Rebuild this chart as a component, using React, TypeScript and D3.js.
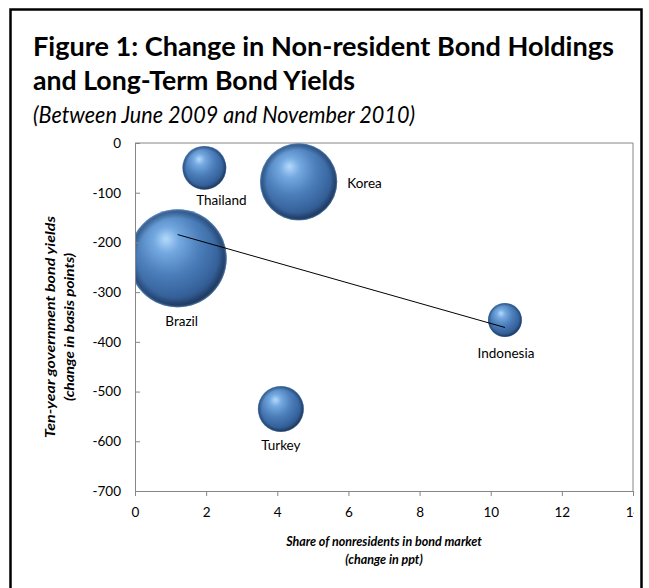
import React, { useEffect, useRef } from "react";
import * as d3 from "d3";

// ---- data ----
const countries = ["Brazil", "Thailand", "Korea", "Turkey", "Indonesia"];
const nonresShareChange = [1.2, 1.95, 4.6, 4.1, 10.4]; // x, ppt
const yieldChange = [-232, -50, -78, -535, -356]; // y, bp
const bubbleSize = [100, 20, 62, 22, 12]; // relative bubble size (area)
const xTicks = [0, 2, 4, 6, 8, 10, 12, 14];
const yTicks = [0, -100, -200, -300, -400, -500, -600, -700];

const titleLines = [
  "Figure 1: Change in Non-resident Bond Holdings",
  "and Long-Term Bond Yields",
];
const subtitle = "(Between June 2009 and November 2010)";
const yTitle = ["Ten-year government bond yields", "(change in basis points)"];
const xTitle = ["Share of nonresidents in bond market", "(change in ppt)"];

// ---- layout / style ----
const W = 649;
const H = 588;
const plot = { left: 135, right: 633, top: 143, bottom: 491 };
const FONT = "Lato, 'Open Sans', 'DejaVu Sans', sans-serif";
const AXIS_COLOR = "#868686";
const labelPlacement: Record<string, { anchor: string; dx: number; dy: number; side: string }> = {
  Brazil: { side: "below", anchor: "middle", dx: 4, dy: 19 },
  Thailand: { side: "below", anchor: "middle", dx: 17, dy: 15 },
  Korea: { side: "right", anchor: "start", dx: 10, dy: 6 },
  Turkey: { side: "below", anchor: "middle", dx: 0, dy: 18 },
  Indonesia: { side: "below", anchor: "middle", dx: 1, dy: 21 },
};

export default function App() {
  const xAxisRef = useRef<SVGGElement>(null);
  const yAxisRef = useRef<SVGGElement>(null);

  const x = d3.scaleLinear().domain([0, 14]).range([plot.left, plot.right]);
  const y = d3.scaleLinear().domain([-700, 0]).range([plot.bottom, plot.top]);
  const r = d3.scaleSqrt().domain([0, 100]).range([0, 49]);

  const points = countries.map((c, i) => ({
    name: c,
    x: nonresShareChange[i],
    y: yieldChange[i],
    s: bubbleSize[i],
  }));

  // linear (OLS) trendline through the points
  const mx = d3.mean(points, (p) => p.x)!;
  const my = d3.mean(points, (p) => p.y)!;
  const sxy = d3.sum(points, (p) => (p.x - mx) * (p.y - my));
  const sxx = d3.sum(points, (p) => (p.x - mx) ** 2);
  const slope = sxy / sxx;
  const intercept = my - slope * mx;
  const [xmin, xmax] = d3.extent(points, (p) => p.x) as [number, number];
  const trend = d3.line<number>()
    .x((v) => x(v))
    .y((v) => y(intercept + slope * v))([xmin, xmax]);

  useEffect(() => {
    if (xAxisRef.current) {
      const g = d3.select(xAxisRef.current);
      g.selectAll("*").remove();
      g.call(
        d3.axisBottom(x).tickValues(xTicks).tickFormat((d) => String(d))
          .tickSize(5).tickSizeOuter(0).tickPadding(11)
      );
      g.select(".domain").attr("stroke", AXIS_COLOR);
      g.selectAll(".tick line").attr("stroke", AXIS_COLOR);
      g.selectAll("text")
        .attr("font-family", FONT)
        .attr("font-size", 13.5)
        .attr("fill", "#000");
    }
    if (yAxisRef.current) {
      const g = d3.select(yAxisRef.current);
      g.selectAll("*").remove();
      g.call(
        d3.axisLeft(y).tickValues(yTicks).tickFormat((d) => String(d))
          .tickSize(-5).tickSizeOuter(0).tickPadding(14)
      );
      g.select(".domain").attr("stroke", AXIS_COLOR);
      g.selectAll(".tick line").attr("stroke", AXIS_COLOR);
      g.selectAll("text")
        .attr("font-family", FONT)
        .attr("font-size", 13.5)
        .attr("fill", "#000");
    }
  });

  const yTitleCy = 327;

  return (
    <svg
      width={W}
      height={H}
      style={{ position: "absolute", left: 0, top: 0, background: "#fff" }}
      fontFamily={FONT}
    >
      <defs>
        <radialGradient id="bubbleBase" cx="0.42" cy="0.38" r="0.66" fx="0.38" fy="0.3">
          <stop offset="0" stopColor="#b3dafb" />
          <stop offset="0.2" stopColor="#74a8e0" />
          <stop offset="0.5" stopColor="#4b7eba" />
          <stop offset="0.8" stopColor="#35619a" />
          <stop offset="1" stopColor="#223f66" />
        </radialGradient>
        <radialGradient id="bubbleRim" cx="0.5" cy="0.5" r="0.5">
          <stop offset="0" stopColor="#10243f" stopOpacity="0" />
          <stop offset="0.82" stopColor="#10243f" stopOpacity="0" />
          <stop offset="0.95" stopColor="#10243f" stopOpacity="0.35" />
          <stop offset="1" stopColor="#6d98c8" stopOpacity="0.7" />
        </radialGradient>
        <clipPath id="plotClip">
          <rect x={plot.left} y={plot.top} width={plot.right - plot.left} height={plot.bottom - plot.top} />
        </clipPath>
        <clipPath id="chartClip">
          <rect x={0} y={0} width={634} height={H} />
        </clipPath>
      </defs>

      {/* outer frame */}
      <path d={`M10.5,${H + 5} V9.5 H641.5 V${H + 5}`} fill="none" stroke="#000" strokeWidth={2.5} />

      {/* title */}
      <text x={33} y={56} fontSize={26} fontWeight={700} fill="#000" textLength={581} lengthAdjust="spacingAndGlyphs">
        {titleLines[0]}
      </text>
      <text x={33} y={90} fontSize={26} fontWeight={700} fill="#000" textLength={322} lengthAdjust="spacingAndGlyphs">
        {titleLines[1]}
      </text>
      <text x={33} y={123} fontSize={24} fontStyle="italic" fill="#000" textLength={382} lengthAdjust="spacingAndGlyphs">
        {subtitle}
      </text>

      {/* plot border (top/right) */}
      <path
        d={`M${plot.left},${plot.top} H${plot.right} V${plot.bottom}`}
        fill="none"
        stroke={AXIS_COLOR}
        strokeWidth={1}
      />

      {/* bubbles */}
      <g clipPath="url(#plotClip)">
        {points.map((p) => (
          <g key={p.name}>
            <circle cx={x(p.x)} cy={y(p.y)} r={r(p.s)} fill="url(#bubbleBase)" />
            <circle cx={x(p.x)} cy={y(p.y)} r={r(p.s)} fill="url(#bubbleRim)" />
          </g>
        ))}
      </g>

      {/* trendline */}
      <path d={trend || ""} fill="none" stroke="#000" strokeWidth={1} />

      {/* bubble labels */}
      {points.map((p) => {
        const pl = labelPlacement[p.name];
        const cx = x(p.x);
        const cy = y(p.y);
        const rr = r(p.s);
        const tx = pl.side === "right" ? cx + rr + pl.dx : cx + pl.dx;
        const ty = pl.side === "right" ? cy + pl.dy : cy + rr + pl.dy;
        return (
          <text key={p.name} x={tx} y={ty} textAnchor={pl.anchor} fontSize={13.5} fill="#000">
            {p.name}
          </text>
        );
      })}

      {/* axes */}
      <g clipPath="url(#chartClip)">
        <g ref={xAxisRef} transform={`translate(0,${plot.bottom})`} />
      </g>
      <g ref={yAxisRef} transform={`translate(${plot.left},0)`} />

      {/* axis titles */}
      <g transform={`translate(55,${yTitleCy}) rotate(-90)`}>
        <text textAnchor="middle" fontSize={14} fontWeight={700} fontStyle="italic" fill="#000" textLength={222} lengthAdjust="spacingAndGlyphs">
          {yTitle[0]}
        </text>
      </g>
      <g transform={`translate(74,${yTitleCy}) rotate(-90)`}>
        <text textAnchor="middle" fontSize={14} fontWeight={700} fontStyle="italic" fill="#000" textLength={148} lengthAdjust="spacingAndGlyphs">
          {yTitle[1]}
        </text>
      </g>
      <text x={(plot.left + plot.right) / 2} y={546} textAnchor="middle" fontSize={12.5} fontWeight={700} fontStyle="italic" fill="#000">
        {xTitle[0]}
      </text>
      <text x={(plot.left + plot.right) / 2} y={564} textAnchor="middle" fontSize={12.5} fontWeight={700} fontStyle="italic" fill="#000">
        {xTitle[1]}
      </text>
    </svg>
  );
}
